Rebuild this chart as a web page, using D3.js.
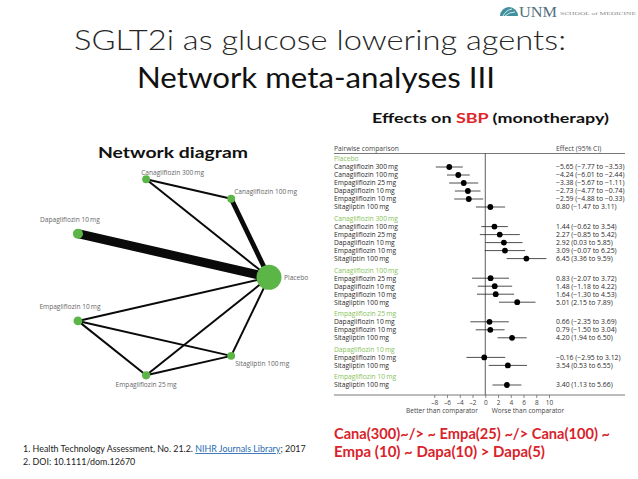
<!DOCTYPE html>
<html>
<head>
<meta charset="utf-8">
<script src="https://cdn.jsdelivr.net/npm/d3@7"></script>
<style>
  html, body { margin: 0; padding: 0; background: #fff; }
  svg { display: block; font-family: Lato, "Open Sans", sans-serif; }
</style>
</head>
<body>
<script>
// forest plot: pairwise comparisons, effect on SBP (mmHg)
var groups = ["Placebo", "Canagliflozin 300\u2009mg", "Canagliflozin 100\u2009mg",
              "Empagliflozin 25\u2009mg", "Dapagliflozin 10\u2009mg", "Empagliflozin 10\u2009mg"];
var rowGroup = [0, 0, 0, 0, 0, 0, 1, 1, 1, 1, 1, 2, 2, 2, 2, 3, 3, 3, 4, 4, 5];
var rowLabels = [
  "Canagliflozin 300\u2009mg", "Canagliflozin 100\u2009mg", "Empagliflozin 25\u2009mg",
  "Dapagliflozin 10\u2009mg", "Empagliflozin 10\u2009mg", "Sitagliptin 100\u2009mg",
  "Canagliflozin 100\u2009mg", "Empagliflozin 25\u2009mg", "Dapagliflozin 10\u2009mg",
  "Empagliflozin 10\u2009mg", "Sitagliptin 100\u2009mg",
  "Empagliflozin 25\u2009mg", "Dapagliflozin 10\u2009mg", "Empagliflozin 10\u2009mg", "Sitagliptin 100\u2009mg",
  "Dapagliflozin 10\u2009mg", "Empagliflozin 10\u2009mg", "Sitagliptin 100\u2009mg",
  "Empagliflozin 10\u2009mg", "Sitagliptin 100\u2009mg",
  "Sitagliptin 100\u2009mg"
];
var estimates = [-5.65, -4.24, -3.38, -2.73, -2.59, 0.80,
                 1.44, 2.27, 2.92, 3.09, 6.45,
                 0.83, 1.48, 1.64, 5.01,
                 0.66, 0.79, 4.20,
                 -0.16, 3.54,
                 3.40];
var lower = [-7.77, -6.01, -5.67, -4.77, -4.88, -1.47,
             -0.62, -0.85, 0.03, -0.07, 3.36,
             -2.07, -1.18, -1.30, 2.15,
             -2.35, -1.50, 1.94,
             -2.95, 0.53,
             1.13];
var upper = [-3.53, -2.44, -1.11, -0.74, -0.33, 3.11,
             3.54, 5.42, 5.85, 6.25, 9.59,
             3.72, 4.22, 4.53, 7.89,
             3.69, 3.04, 6.50,
             3.12, 6.55,
             5.66];
var xTicks = [-8, -6, -4, -2, 0, 2, 4, 6, 8, 10];

// network diagram
var nodes = ["Placebo", "Canagliflozin 100\u2009mg", "Canagliflozin 300\u2009mg", "Dapagliflozin 10\u2009mg",
             "Empagliflozin 10\u2009mg", "Empagliflozin 25\u2009mg", "Sitagliptin 100\u2009mg"];
var nodePatients = [2600, 260, 260, 420, 330, 280, 260];
var edgeFrom = [2, 2, 1, 3, 4, 4, 4, 5, 5, 6];
var edgeTo   = [1, 0, 0, 0, 0, 5, 6, 0, 6, 0];
var edgeStudies = [1, 1, 3, 6, 1, 1, 1, 1, 1, 1];

var W = 638, H = 479;
var svg = d3.select("body").append("svg").attr("width", W).attr("height", H);

// font size that makes a sample string a given width
function fitSize(sample, width, family) {
  var t = svg.append("text").attr("font-family", family).attr("font-size", 10).text(sample);
  var w = t.node().getComputedTextLength();
  t.remove();
  return 10 * width / w;
}
var labFont = "'Open Sans', sans-serif";
var labSize = fitSize("Canagliflozin 300\u2009mg", 64, labFont);
var netSize = fitSize("Canagliflozin 300\u2009mg", 63, labFont);
var valSize = fitSize("\u20135.65 (\u20137.77 to \u20133.53)", 67, labFont);
var axSize = fitSize("Better than comparator", 72, labFont);
var refSize = fitSize("1. Health Technology Assessment, No. 21.2. NIHR Journals Library; 2017", 283, "Lato");

// ---- header ----
var logo = svg.append("g");
logo.append("path")
  .attr("d", "M500,16 A9,9 0 0 1 518,16 Z")
  .attr("fill", "#3f8f9c");
logo.append("path")
  .attr("d", "M503,16 Q506,10 512,9 M505,16 Q509,12 515,12")
  .attr("fill", "none").attr("stroke", "#fff").attr("stroke-width", 0.8);
logo.append("text").attr("x", 519).attr("y", 16.5)
  .attr("font-family", "'Liberation Serif', 'DejaVu Serif', serif")
  .attr("font-size", 14).attr("fill", "#4f6f7d")
  .attr("textLength", 38).attr("lengthAdjust", "spacingAndGlyphs")
  .text("UNM");
logo.append("text").attr("x", 560).attr("y", 14.5)
  .attr("font-family", "'Liberation Serif', 'DejaVu Serif', serif")
  .attr("font-size", 5).attr("fill", "#8a8a8a")
  .attr("textLength", 76).attr("lengthAdjust", "spacingAndGlyphs")
  .text("SCHOOL of MEDICINE");

svg.append("text").attr("x", 74).attr("y", 50)
  .attr("font-size", 28).attr("font-weight", 300).attr("fill", "#262626")
  .attr("textLength", 492).attr("lengthAdjust", "spacingAndGlyphs")
  .text("SGLT2i as glucose lowering agents:");
svg.append("text").attr("x", 137).attr("y", 88)
  .attr("font-size", 28).attr("fill", "#111")
  .attr("textLength", 358).attr("lengthAdjust", "spacingAndGlyphs")
  .text("Network meta-analyses III");

var sub = svg.append("text").attr("x", 372).attr("y", 123)
  .attr("font-size", 14).attr("font-weight", 700).attr("fill", "#111")
  .attr("textLength", 237).attr("lengthAdjust", "spacingAndGlyphs");
sub.append("tspan").text("Effects on ");
sub.append("tspan").attr("fill", "#e0262b").text("SBP");
sub.append("tspan").text(" (monotherapy)");

svg.append("text").attr("x", 98).attr("y", 158)
  .attr("font-size", 16).attr("font-weight", 700).attr("fill", "#111")
  .attr("textLength", 150).attr("lengthAdjust", "spacingAndGlyphs")
  .text("Network diagram");

// ---- network diagram ----
var cx = 168.5, cy = 277.3, R = 100.5;
var angle = d3.scaleLinear().domain([0, nodes.length]).range([0, -2 * Math.PI]);
var rScale = d3.scaleSqrt().domain([0, d3.max(nodePatients)]).range([0, 12.5]);
var wScale = d3.scaleLinear().domain([1, 6]).range([2, 9]);
var pos = nodes.map(function (d, i) {
  return [cx + R * Math.cos(angle(i)), cy + R * Math.sin(angle(i))];
});

var net = svg.append("g");
net.selectAll("line.edge")
  .data(edgeFrom)
  .enter().append("line")
  .attr("class", "edge")
  .attr("x1", function (d) { return pos[d][0]; })
  .attr("y1", function (d) { return pos[d][1]; })
  .attr("x2", function (d, i) { return pos[edgeTo[i]][0]; })
  .attr("y2", function (d, i) { return pos[edgeTo[i]][1]; })
  .attr("stroke", "#0a0a0a")
  .attr("stroke-width", function (d, i) { return wScale(edgeStudies[i]); });

net.selectAll("circle")
  .data(nodes)
  .enter().append("circle")
  .attr("cx", function (d, i) { return pos[i][0]; })
  .attr("cy", function (d, i) { return pos[i][1]; })
  .attr("r", function (d, i) { return rScale(nodePatients[i]); })
  .attr("fill", "#5cb547");

// label offsets from node centre: [dx, dy, anchor]
var labelAt = [[15, 0.5, "start"], [3, -7, "start"], [-5, -7, "start"], [-8, -14, "middle"],
               [-8, -14, "middle"], [0, 9.5, "middle"], [4, 8, "start"]];
net.selectAll("text")
  .data(nodes)
  .enter().append("text")
  .attr("x", function (d, i) { return pos[i][0] + labelAt[i][0]; })
  .attr("y", function (d, i) { return pos[i][1] + labelAt[i][1]; })
  .attr("dy", "0.35em")
  .attr("text-anchor", function (d, i) { return labelAt[i][2]; })
  .attr("font-family", labFont)
  .attr("font-size", netSize)
  .attr("fill", "#666")
  .text(function (d) { return d; });

// ---- forest plot ----
var gap = 0.45;
var lines = [];
groups.forEach(function (g, gi) {
  lines.push({ kind: "group", label: g, pos: lines.length + gi * gap });
  rowGroup.forEach(function (rg, ri) {
    if (rg === gi) lines.push({ kind: "row", i: ri, pos: lines.length + gi * gap });
  });
});
var lastPos = lines[lines.length - 1].pos;
var y = d3.scaleLinear().domain([0, lastPos]).range([159, 385]);
var x = d3.scaleLinear().domain([-8, 10]).range([434.3, 549]);
var fLeft = 334, fRight = 625, fTop = 153.5, fAxis = 395;

var fp = svg.append("g").attr("font-family", labFont).attr("font-size", labSize);
fp.append("text").attr("x", fLeft).attr("y", 151).attr("fill", "#444")
  .text("Pairwise comparison");
fp.append("text").attr("x", 556).attr("y", 151).attr("fill", "#444")
  .attr("font-size", valSize)
  .text("Effect (95% CI)");
fp.append("line").attr("x1", fLeft).attr("x2", fRight).attr("y1", fTop).attr("y2", fTop)
  .attr("stroke", "#555").attr("stroke-width", 0.8);
fp.append("line").attr("x1", x(0)).attr("x2", x(0)).attr("y1", fTop).attr("y2", fAxis)
  .attr("stroke", "#333").attr("stroke-width", 0.8);

var groupLines = lines.filter(function (d) { return d.kind === "group"; });
var rowLines = lines.filter(function (d) { return d.kind === "row"; });

fp.selectAll("text.grp")
  .data(groupLines)
  .enter().append("text")
  .attr("class", "grp")
  .attr("x", fLeft).attr("y", function (d) { return y(d.pos); })
  .attr("dy", "0.35em")
  .attr("fill", "#86c35a")
  .text(function (d) { return d.label; });

fp.selectAll("text.lab")
  .data(rowLines)
  .enter().append("text")
  .attr("class", "lab")
  .attr("x", fLeft).attr("y", function (d) { return y(d.pos); })
  .attr("dy", "0.35em")
  .attr("fill", "#2a2a2a")
  .text(function (d) { return rowLabels[d.i]; });

var fmt = d3.format(".2f");
fp.selectAll("text.val")
  .data(rowLines)
  .enter().append("text")
  .attr("class", "val")
  .attr("x", 556).attr("y", function (d) { return y(d.pos); })
  .attr("dy", "0.35em")
  .attr("font-size", valSize)
  .attr("fill", "#2a2a2a")
  .text(function (d) {
    return fmt(estimates[d.i]).replace("-", "\u2013") + " (" +
      fmt(lower[d.i]).replace("-", "\u2013") + " to " +
      fmt(upper[d.i]).replace("-", "\u2013") + ")";
  });

fp.selectAll("line.ci")
  .data(rowLines)
  .enter().append("line")
  .attr("class", "ci")
  .attr("x1", function (d) { return x(lower[d.i]); })
  .attr("x2", function (d) { return x(upper[d.i]); })
  .attr("y1", function (d) { return y(d.pos); })
  .attr("y2", function (d) { return y(d.pos); })
  .attr("stroke", "#222").attr("stroke-width", 0.8);

fp.selectAll("circle")
  .data(rowLines)
  .enter().append("circle")
  .attr("cx", function (d) { return x(estimates[d.i]); })
  .attr("cy", function (d) { return y(d.pos); })
  .attr("r", 2.9)
  .attr("fill", "#000");

fp.append("line").attr("x1", fLeft).attr("x2", fRight).attr("y1", fAxis).attr("y2", fAxis)
  .attr("stroke", "#555").attr("stroke-width", 0.8);
var axis = fp.append("g")
  .attr("transform", "translate(0," + fAxis + ")")
  .call(d3.axisBottom(x).tickValues(xTicks).tickSize(3).tickPadding(2)
    .tickFormat(function (d) { return d < 0 ? "\u2013" + Math.abs(d) : d; }));
axis.select(".domain").remove();
axis.selectAll("line").attr("stroke", "#555").attr("stroke-width", 0.7);
axis.selectAll("text").attr("font-size", axSize).attr("fill", "#444").attr("font-family", labFont);
fp.append("text").attr("x", 442).attr("y", 411).attr("dy", "0.35em").attr("text-anchor", "middle")
  .attr("font-size", axSize).attr("fill", "#444").text("Better than comparator");
fp.append("text").attr("x", 528).attr("y", 411).attr("dy", "0.35em").attr("text-anchor", "middle")
  .attr("font-size", axSize).attr("fill", "#444").text("Worse than comparator");

// ---- ranking text ----
svg.append("text").attr("x", 334).attr("y", 439)
  .attr("font-size", 15).attr("font-weight", 700).attr("fill", "#d9232b")
  .attr("textLength", 276).attr("lengthAdjust", "spacingAndGlyphs")
  .text("Cana(300)~/> ~ Empa(25) ~/> Cana(100) ~");
svg.append("text").attr("x", 334).attr("y", 457)
  .attr("font-size", 15).attr("font-weight", 700).attr("fill", "#d9232b")
  .attr("textLength", 211).attr("lengthAdjust", "spacingAndGlyphs")
  .text("Empa (10) ~ Dapa(10) > Dapa(5)");

// ---- references ----
var refs = svg.append("g").attr("font-family", "Lato").attr("font-size", refSize).attr("fill", "#222");
var ref1 = refs.append("text").attr("x", 23).attr("y", 452);
ref1.append("tspan").text("1. Health Technology Assessment, No. 21.2. ");
ref1.append("tspan").attr("fill", "#2b6cb0").attr("text-decoration", "underline").text("NIHR Journals Library");
ref1.append("tspan").text("; 2017");
refs.append("text").attr("x", 23).attr("y", 465)
  .text("2. DOI: 10.1111/dom.12670");
</script>
</body>
</html>
